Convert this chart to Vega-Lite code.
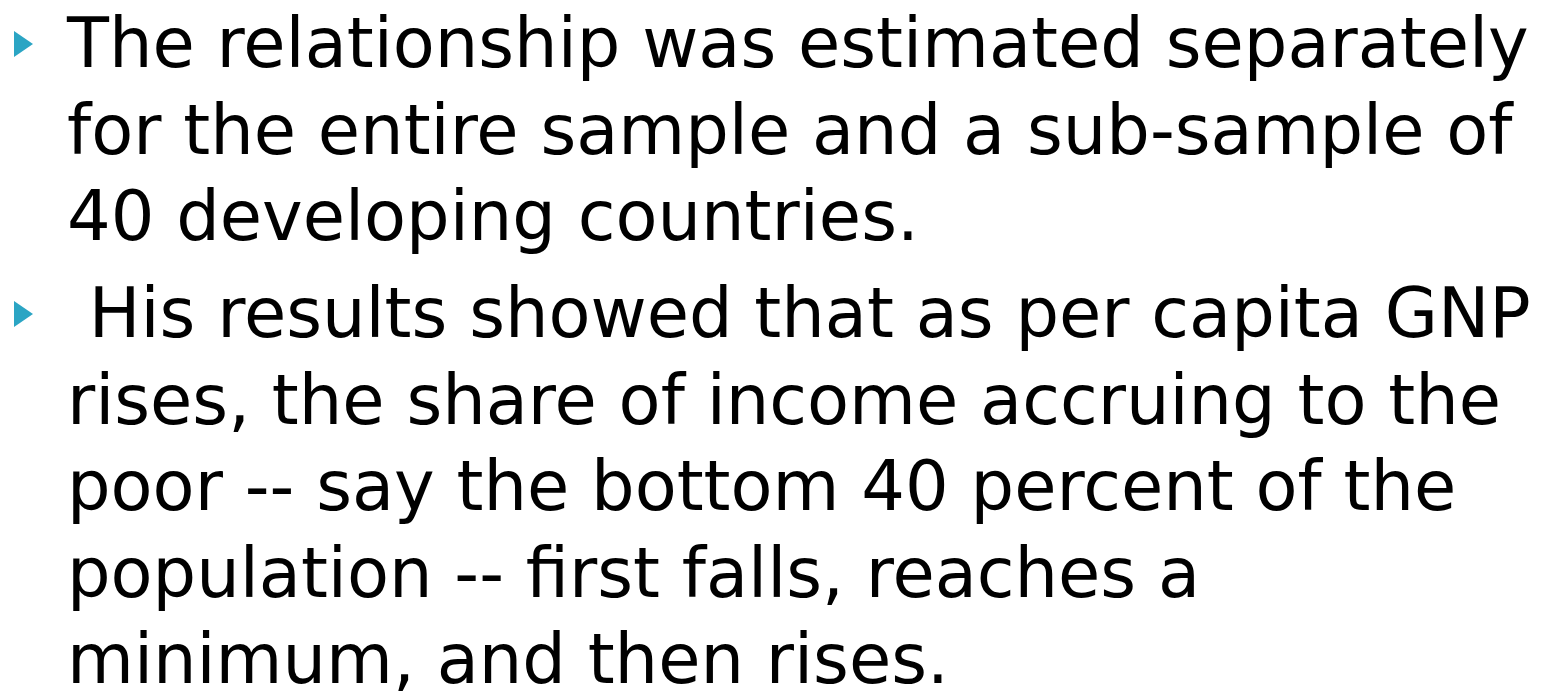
{
  "$schema": "https://vega.github.io/schema/vega-lite/v6.json",
  "background": "white",
  "padding": {"left": 14, "top": 0, "right": 0, "bottom": 0},
  "spacing": 97,
  "bounds": "flush",
  "config": {"view": {"stroke": null}},
  "datasets": {
    "lines": [
      {"para": 1, "line": 1, "bullet": true, "text": "The relationship was estimated separately"},
      {"para": 1, "line": 2, "bullet": false, "text": "for the entire sample and a sub-sample of"},
      {"para": 1, "line": 3, "bullet": false, "text": "40 developing countries."},
      {"para": 2, "line": 4, "bullet": true, "text": "\u200b\u00a0His results showed that as per capita GNP"},
      {"para": 2, "line": 5, "bullet": false, "text": "rises, the share of income accruing to the"},
      {"para": 2, "line": 6, "bullet": false, "text": "poor -- say the bottom 40 percent of the"},
      {"para": 2, "line": 7, "bullet": false, "text": "population -- first falls, reaches a"},
      {"para": 2, "line": 8, "bullet": false, "text": "minimum, and then rises."}
    ]
  },
  "vconcat": [
    {
      "width": 1470,
      "height": 173,
      "data": {"name": "lines"},
      "transform": [{"filter": "datum.para == 1"}],
      "encoding": {
        "y": {"field": "line", "type": "ordinal", "scale": {"type": "point", "padding": 0}, "axis": null},
        "x": {"value": 0}
      },
      "layer": [
        {
          "mark": {"type": "text", "align": "left", "baseline": "alphabetic", "dy": 67, "font": "DejaVu Sans", "fontSize": 68.7, "color": "#000000"},
          "encoding": {"text": {"field": "text"}}
        },
        {
          "transform": [{"filter": "datum.bullet"}],
          "mark": {"type": "point", "shape": "M-0.73,-1L0.73,0L-0.73,1Z", "size": 676, "filled": true, "opacity": 1, "color": "#2BA5C4", "xOffset": -43.5, "yOffset": 44},
          "encoding": {}
        }
      ]
    },
    {
      "width": 1470,
      "height": 346,
      "data": {"name": "lines"},
      "transform": [{"filter": "datum.para == 2"}],
      "encoding": {
        "y": {"field": "line", "type": "ordinal", "scale": {"type": "point", "padding": 0}, "axis": null},
        "x": {"value": 0}
      },
      "layer": [
        {
          "mark": {"type": "text", "align": "left", "baseline": "alphabetic", "dy": 67, "font": "DejaVu Sans", "fontSize": 68.7, "color": "#000000"},
          "encoding": {"text": {"field": "text"}}
        },
        {
          "transform": [{"filter": "datum.bullet"}],
          "mark": {"type": "point", "shape": "M-0.73,-1L0.73,0L-0.73,1Z", "size": 676, "filled": true, "opacity": 1, "color": "#2BA5C4", "xOffset": -43.5, "yOffset": 44},
          "encoding": {}
        }
      ]
    }
  ]
}
